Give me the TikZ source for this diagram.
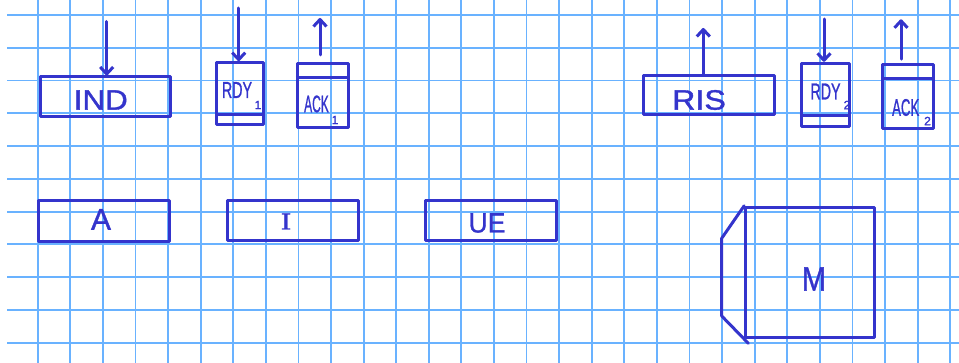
\documentclass[tikz,border=0pt]{standalone}
\usepackage{fontspec}
\usepackage{graphicx}
\setmainfont{Liberation Sans}[FakeBold=1.2]
\newfontfamily\serifhand{Liberation Serif}[FakeBold=1.2]
\usetikzlibrary{arrows.meta}
\definecolor{gridblue}{RGB}{105,178,255}
\definecolor{pen}{RGB}{52,52,204}
\tikzset{
  gridline/.style={draw=gridblue, line width=1.8pt},
  box/.style={draw=pen, line width=3pt, line join=round, rectangle, inner sep=0pt},
  penline/.style={draw=pen, line width=3pt, line join=round, line cap=round},
  innerline/.style={draw=pen, line width=3pt, line cap=butt},
  sig/.style={draw=pen, line width=3pt, line cap=round, -{Straight Barb[length=7pt,width=13pt,line join=round]}},
  hand/.style={text=pen, inner sep=0pt, anchor=center},
}
\newcommand{\hw}[3]{\fontsize{#1}{#1}\selectfont\scalebox{#2}[1]{#3}}
\begin{document}
\begin{tikzpicture}[x=1pt,y=-1pt]
\useasboundingbox (0,0) rectangle (959,363);
\fill[white] (0,0) rectangle (959,363);
% grid
\foreach \i in {0,...,28} \draw[gridline] ({37.7+32.59*\i},0) -- ({37.7+32.59*\i},363);
\foreach \j in {0,...,10} \draw[gridline] (7,{15+32.77*\j}) -- (959,{15+32.77*\j});

% upper row boxes
\node[box, minimum width=130pt, minimum height=40pt] (IND) at (105.5,97) {};
\node[box, minimum width=47.3pt, minimum height=62.3pt] (RDY1) at (240.3,93.8) {};
\node[box, minimum width=51pt, minimum height=64pt] (ACK1) at (322.8,95.3) {};
\node[box, minimum width=131pt, minimum height=39.3pt] (RIS) at (708.8,94.7) {};
\node[box, minimum width=48pt, minimum height=63.4pt] (RDY2) at (825,95) {};
\node[box, minimum width=50.6pt, minimum height=64pt] (ACK2) at (908,96.3) {};

% inner lines
\draw[innerline] ([yshift=11.7pt]RDY1.south west) -- ([yshift=11.7pt]RDY1.south east);
\draw[innerline] ([yshift=-16pt]ACK1.north west) -- ([yshift=-16pt]ACK1.north east);
\draw[innerline] ([yshift=12.4pt]RDY2.south west) -- ([yshift=12.4pt]RDY2.south east);
\draw[innerline] ([yshift=-15.7pt]ACK2.north west) -- ([yshift=-15.7pt]ACK2.north east);

% lower row boxes
\node[box, minimum width=131pt, minimum height=40.3pt] (A) at (104,220.9) {};
\node[box, minimum width=131.4pt, minimum height=40.7pt] (I) at (293.2,220.4) {};
\node[box, minimum width=131.3pt, minimum height=40.7pt] (UE) at (491.2,220.4) {};
\node[box, minimum width=129.3pt, minimum height=130.4pt] (M) at (810.3,272.5) {};

% M side face
\coordinate (m1) at (721.7,238.3);
\coordinate (m2) at (721.7,316);
\coordinate (m3) at (748.3,343.3);
\draw[penline] (M.north west) -- (m1) -- (m2) -- (m3);

% signals
\coordinate (indsrc) at (106.7,21.5);
\coordinate (rdy1src) at (238.7,8);
\coordinate (ack1dst) at (320,18);
\coordinate (risdst) at (703.3,28);
\coordinate (rdy2src) at (824,19);
\coordinate (ack2dst) at (901,19.3);
\draw[sig] (indsrc) -- (indsrc |- IND.north);
\draw[sig] (rdy1src) -- (rdy1src |- RDY1.north);
\draw[sig, shorten <=7pt] (ack1dst |- ACK1.north) -- (ack1dst);
\draw[sig] (risdst |- RIS.north) -- (risdst);
\draw[sig] (rdy2src) -- (rdy2src |- RDY2.north);
\draw[sig, shorten <=3.6pt] (ack2dst |- ACK2.north) -- (ack2dst);

% texts
\node[hand] (tIND) at (100.8,100) {\hw{28}{1.12}{IND}};
\node[hand] (tRDY1) at (237,90) {\hw{23}{0.62}{RDY}};
\node[hand] (sRDY1) at (258,105) {\hw{12}{1}{1}};
\node[hand] (tACK1) at (316.5,104) {\hw{24}{0.5}{ACK}};
\node[hand] (sACK1) at (335,120) {\hw{12}{1}{1}};
\node[hand] (tRIS) at (699,100) {\hw{28}{1.15}{RIS}};
\node[hand] (tRDY2) at (825.5,91.5) {\hw{23}{0.62}{RDY}};
\node[hand] (sRDY2) at (847,105) {\hw{12}{1}{2}};
\node[hand] (tACK2) at (905.7,107.5) {\hw{24}{0.55}{ACK}};
\node[hand] (sACK2) at (927.5,121) {\hw{12}{1}{2}};
\node[hand] (tA) at (101,219.5) {\hw{30}{1}{A}};
\node[hand] (tI) at (286,221.5) {\serifhand\hw{24}{1.3}{I}};
\node[hand] (tUE) at (487,223) {\hw{28}{0.95}{UE}};
\node[hand] (tM) at (814,279) {\hw{34}{0.85}{M}};
\end{tikzpicture}
\end{document}
